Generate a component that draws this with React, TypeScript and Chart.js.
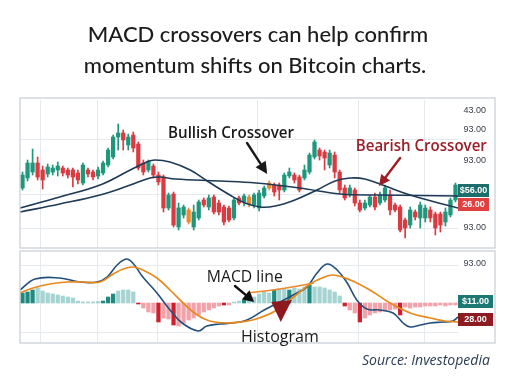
import { useEffect, useRef } from "react";
import { Chart, registerables } from "chart.js";

Chart.register(...registerables);

// ---------- text ----------
const TITLE = ["MACD crossovers can help confirm", "momentum shifts on Bitcoin charts."];
const SOURCE = "Source: Investopedia";

// ---------- price panel (candles, index = session) ----------
const opens = [60,70,76,85,78,74,76,78,80,78,78,75,65,78,76,72,75,83,91,111,115,103,113,104,85,78,82,73,71,40,54,21,33,38,21,30,48,41,51,45,41,40,30,50,46,44,43,40,52,65,63,63,58,72,73,71,70,76,91,98,96,83,93,76,60,53,58,45,40,43,51,45,48,53,43,41,28,23,36,30,30,38,34,34,26,33,48];
const closes = [73,85,85,71,68,81,80,82,75,73,71,68,83,74,71,78,85,98,111,115,108,111,100,80,76,86,73,66,40,53,23,40,41,26,36,46,43,50,36,36,26,28,48,45,52,51,53,55,60,60,56,58,73,76,68,58,78,93,106,92,90,95,76,58,50,60,45,38,45,51,41,53,60,38,38,18,20,38,31,43,40,30,20,23,36,48,63];
const highs = [76,88,99,91,82,84,83,86,82,80,80,78,85,80,78,81,87,100,113,124,118,114,116,106,88,88,84,76,73,55,56,45,43,40,43,48,50,53,53,48,43,42,50,52,54,53,55,58,62,67,65,65,75,80,75,73,83,95,108,100,98,98,96,78,63,63,60,48,48,53,55,56,63,58,45,43,30,41,38,46,43,41,36,36,40,50,65];
const lows = [58,67,73,68,59,71,73,72,72,70,61,64,63,71,68,69,73,81,89,98,98,98,96,78,73,76,70,63,36,38,21,18,30,24,18,28,41,38,34,33,23,26,28,43,42,41,40,37,50,58,52,48,56,70,65,56,68,74,89,88,78,80,70,55,48,51,42,36,38,41,38,43,46,33,36,16,10,20,28,20,26,26,13,16,22,31,46];
const orangeCandles = [33, 45, 49];

// moving averages (sampled along the sessions)
const fastMaX = [-0.5,7.4,15.4,21.4,24.7,26.3,29.3,33.3,37.0,41.2,44.2,47.2,50.2,54.1,58.5,62.1,65.1,68.0,72.0,77.0,81.9,86.5];
const fastMaY = [40,51,63,78,86,88,86,78,66,53,45,41,42,48,58,67,70,69,62,53,46,40];
const slowMaX = [-0.5,7.4,15.4,21.4,25.3,27.3,30.3,39.2,46.4,55.1,63.1,71.0,86.5];
const slowMaY = [36,44,53,63,70,71,69,67,65,60,54,53,52];

// price axis labels
const priceLabels = ["43.00", "93.00", "93.00", "93.00"];
const priceLabelValues = [137, 118, 87, 20];
const priceBadges = ["$56.00", "26.00"];
const priceBadgeValues = [57.5, 43.5];
const priceBadgeColors = ["#1d6e6b", "#e0403f"];
const priceGrid = [109, 54, 20];

// ---------- MACD panel ----------
const histogram = [10,11,13,15,12,10,9,8,7,6,5,2,1,1,1,1.5,2,6,9,12,13,13,11,-1,-5,-9,-10,-19,-15,-16,-22,-23,-20,-17,-15,-12,-9,-7,-5,-3,-2,-2,1,2,3,4,6,9,11,10,13,14,14,13,15,14,16,18,16,16,15,13,11,7,-3,-7,-10,-19,-15,-12,-10,-9,-8,-7,-6,-12,-4,-5,-4,-4,-3,-3,-3,-2,-3,-2,-2];
const histStrong = [0,1,2,16,17,18,23,27,30,40,44,50,53,57,64,67,75];
const macdX = [-0.5,2.5,7.4,11.4,14.8,16.8,18.8,20.6,21.9,23.9,26.7,29.3,31.7,34.9,36.6,39.2,41.8,44.6,48.0,51.9,54.5,56.5,58.5,60.5,62.5,64.5,66.4,68.4,71.0,73.6,75.6,77.0,79.0,81.0,83.5,85.5,86.5];
const macdY = [13,24,25,21,21,26,38,44,40,26,10,-7,-20,-28,-23,-21,-20,-17,-7,3,10,16,30,39,33,20,3,-6,-7,-10,-20,-24,-22,-20,-19,-18,-14];
const signalX = [-0.5,2.1,5.5,8.8,12.0,15.4,18.0,20.0,21.9,23.9,26.7,29.3,31.9,34.7,37.2,40.6,43.2,46.4,50.2,54.1,57.1,59.5,61.7,65.1,69.0,73.0,77.0,81.0,83.9,86.5];
const signalY = [10,15,19,21,21,21,29,34,36,33,25,13,0,-12,-18,-20,-19,-16,-8,7,19,25,28,23,13,0,-10,-15,-18,-19];
const macdLabels = ["93.00"];
const macdLabelValues = [39];
const macdBadges = ["$11.00", "28.00"];
const macdBadgeValues = [1.5, -16.5];
const macdBadgeColors = ["#1c7873", "#8c1b22"];
const macdGrid = [38, -29];

// shared session grid
const sessionGrid = [9.23, 20.56, 32.87, 60.48, 73.0, 86.5];

// ---------- annotations (session, value) ----------
const bullishText = "Bullish Crossover";
const bullishAt = [28.9, 110];
const bullishArrow = [44.6, 105, 48.6, 74];
const bearishText = "Bearish Crossover";
const bearishAt = [66.2, 97];
const bearishArrow = [75.0, 90, 70.8, 62];
const macdText = "MACD line";
const macdAt = [36.6, 21];
const macdArrow = [42.2, 17, 46.0, 1];
const macdTail = [44.6, 10, 51.0, 13, 57.9, 20];
const histText = "Histogram";
const histAt = [43.4, -39];
const histHead = [49.4, 1, 53.5, 3, 51.3, -19];

const GREEN = "#1f977c";
const RED = "#db3a41";
const ORANGE = "#ec8a2f";
const NAVY = "#1e3a55";
const GRID = "#e6e9ee";
const FRAME = "#cbd0d8";

function drawArrow(ctx: any, x1: number, y1: number, x2: number, y2: number, color: string, w: number, hl: number, hw: number) {
  const a = Math.atan2(y2 - y1, x2 - x1);
  const bx = x2 - hl * Math.cos(a);
  const by = y2 - hl * Math.sin(a);
  ctx.strokeStyle = color;
  ctx.lineWidth = w;
  ctx.lineCap = "round";
  ctx.beginPath();
  ctx.moveTo(x1, y1);
  ctx.lineTo(bx, by);
  ctx.stroke();
  ctx.fillStyle = color;
  ctx.beginPath();
  ctx.moveTo(x2, y2);
  ctx.lineTo(bx + hw * Math.sin(a), by - hw * Math.cos(a));
  ctx.lineTo(bx - hw * Math.sin(a), by + hw * Math.cos(a));
  ctx.closePath();
  ctx.fill();
}

const topDecor = {
  id: "topDecor",
  afterDraw(chart: any) {
    const { ctx } = chart;
    const x = chart.scales.x;
    const y = chart.scales.y;
    const px = (i: number) => x.getPixelForValue(i);
    const py = (v: number) => y.getPixelForValue(v);
    ctx.save();
    // frame
    ctx.strokeStyle = FRAME;
    ctx.lineWidth = 1.3;
    ctx.strokeRect(20, 98, 475, 150);
    // title
    ctx.fillStyle = "#1c1c1c";
    ctx.textAlign = "center";
    ctx.textBaseline = "alphabetic";
    ctx.font = "500 22px Lato";
    ctx.fillText(TITLE[0], 258, 42, 346);
    ctx.fillText(TITLE[1], 255, 73, 348);
    // axis labels
    ctx.font = "9px 'Liberation Sans'";
    ctx.textAlign = "right";
    ctx.textBaseline = "middle";
    ctx.fillStyle = "#3b4048";
    priceLabels.forEach((t, k) => ctx.fillText(t, 486, py(priceLabelValues[k])));
    priceBadges.forEach((t, k) => {
      const cy = py(priceBadgeValues[k]);
      ctx.fillStyle = priceBadgeColors[k];
      ctx.fillRect(458, cy - 6.5, 31, 13);
      ctx.fillStyle = "#ffffff";
      ctx.font = "bold 9px 'Liberation Sans'";
      ctx.textAlign = "center";
      ctx.fillText(t, 473.5, cy + 0.5);
    });
    // annotations
    ctx.textAlign = "left";
    ctx.textBaseline = "alphabetic";
    ctx.fillStyle = "#1a1a1a";
    ctx.font = "600 17px 'Open Sans'";
    ctx.fillText(bullishText, px(bullishAt[0]), py(bullishAt[1]), 126);
    drawArrow(ctx, px(bullishArrow[0]), py(bullishArrow[1]), px(bullishArrow[2]), py(bullishArrow[3]), "#1a1a1a", 2.4, 12, 6);
    ctx.fillStyle = "#9c1e27";
    ctx.font = "600 16px 'Open Sans'";
    ctx.fillText(bearishText, px(bearishAt[0]), py(bearishAt[1]), 131);
    drawArrow(ctx, px(bearishArrow[0]), py(bearishArrow[1]), px(bearishArrow[2]), py(bearishArrow[3]), "#9c1e27", 2.4, 11, 5.5);
    ctx.restore();
  },
};

const bottomDecor = {
  id: "bottomDecor",
  afterDraw(chart: any) {
    const { ctx } = chart;
    const x = chart.scales.x;
    const y = chart.scales.y;
    const px = (i: number) => x.getPixelForValue(i);
    const py = (v: number) => y.getPixelForValue(v);
    ctx.save();
    ctx.strokeStyle = FRAME;
    ctx.lineWidth = 1.3;
    ctx.strokeRect(20, 251, 475, 92);
    // labels
    ctx.font = "9px 'Liberation Sans'";
    ctx.textAlign = "right";
    ctx.textBaseline = "middle";
    ctx.fillStyle = "#3b4048";
    macdLabels.forEach((t, k) => ctx.fillText(t, 486, py(macdLabelValues[k])));
    macdBadges.forEach((t, k) => {
      const cy = py(macdBadgeValues[k]);
      ctx.fillStyle = macdBadgeColors[k];
      ctx.fillRect(458, cy - 6.5, 35, 13);
      ctx.fillStyle = "#ffffff";
      ctx.font = "bold 9px 'Liberation Sans'";
      ctx.textAlign = "center";
      ctx.fillText(t, 475.5, cy + 0.5);
    });
    // MACD line annotation
    ctx.strokeStyle = ORANGE;
    ctx.lineWidth = 1.5;
    ctx.beginPath();
    ctx.moveTo(px(macdTail[0]), py(macdTail[1]));
    ctx.quadraticCurveTo(px(macdTail[2]), py(macdTail[3]), px(macdTail[4]), py(macdTail[5]));
    ctx.stroke();
    drawArrow(ctx, px(macdArrow[0]), py(macdArrow[1]), px(macdArrow[2]), py(macdArrow[3]), "#111111", 2.4, 11, 6);
    ctx.textAlign = "left";
    ctx.textBaseline = "alphabetic";
    ctx.fillStyle = "#1a1a1a";
    ctx.font = "500 16px 'Open Sans'";
    ctx.fillText(macdText, px(macdAt[0]), py(macdAt[1]), 76);
    // Histogram annotation
    ctx.fillStyle = "#8e1a1f";
    ctx.beginPath();
    ctx.moveTo(px(histHead[0]), py(histHead[1]));
    ctx.lineTo(px(histHead[2]), py(histHead[3]));
    ctx.lineTo(px(histHead[4]), py(histHead[5]));
    ctx.closePath();
    ctx.fill();
    ctx.fillStyle = "#1a1a1a";
    ctx.font = "500 16px 'Open Sans'";
    ctx.fillText(histText, px(histAt[0]), py(histAt[1]), 78);
    // source
    ctx.fillStyle = "#2b3d52";
    ctx.font = "italic 15px 'Open Sans'";
    ctx.fillText(SOURCE, 362, 365, 128);
    ctx.restore();
  },
};

function xScale() {
  return {
    type: "linear" as const,
    min: -0.5,
    max: 86.5,
    offset: false,
    display: true,
    ticks: { display: false },
    grid: { color: GRID, drawTicks: false },
    border: { display: false },
    afterBuildTicks: (s: any) => {
      s.ticks = sessionGrid.map((v) => ({ value: v }));
    },
  };
}

function yScale(min: number, max: number, grid: number[]) {
  return {
    type: "linear" as const,
    position: "right" as const,
    min,
    max,
    display: true,
    ticks: { display: false },
    grid: { color: GRID, drawTicks: false },
    border: { display: false },
    afterBuildTicks: (s: any) => {
      s.ticks = grid.map((v) => ({ value: v }));
    },
  };
}

const baseOptions = {
  responsive: false,
  animation: false as const,
  events: [] as any[],
  plugins: { legend: { display: false }, tooltip: { enabled: false }, title: { display: false } },
};

function candleColor(i: number) {
  if (orangeCandles.includes(i)) return ORANGE;
  return closes[i] >= opens[i] ? GREEN : RED;
}

function histColor(i: number) {
  const v = histogram[i];
  const strong = histStrong.includes(i);
  if (v >= 0) return strong ? "#1f8a80" : "#a6d4d2";
  return strong ? "#cf1f2c" : "#f2a3a9";
}

export default function App() {
  const topRef = useRef<HTMLCanvasElement>(null);
  const botRef = useRef<HTMLCanvasElement>(null);

  useEffect(() => {
    const idx = opens.map((_, i) => i);
    const top = new Chart(topRef.current as HTMLCanvasElement, {
      type: "bar",
      data: {
        datasets: [
          {
            type: "line",
            data: fastMaX.map((v, k) => ({ x: v, y: fastMaY[k] })),
            borderColor: NAVY,
            borderWidth: 1.6,
            pointRadius: 0,
            tension: 0.4,
          } as any,
          {
            type: "line",
            data: slowMaX.map((v, k) => ({ x: v, y: slowMaY[k] })),
            borderColor: NAVY,
            borderWidth: 1.6,
            pointRadius: 0,
            tension: 0.4,
          } as any,
          {
            type: "bar",
            data: idx.map((i) => ({ x: i, y: [Math.min(opens[i], closes[i]), Math.max(opens[i], closes[i])] })),
            backgroundColor: idx.map(candleColor),
            barThickness: 3.6,
            grouped: false,
          } as any,
          {
            type: "bar",
            data: idx.map((i) => ({ x: i, y: [lows[i], highs[i]] })),
            backgroundColor: idx.map(candleColor),
            barThickness: 1,
            grouped: false,
          } as any,
        ],
      },
      options: {
        ...baseOptions,
        layout: { padding: { left: 20, right: 54, top: 100, bottom: 136 } },
        scales: { x: xScale(), y: yScale(0, 148, priceGrid) },
      } as any,
      plugins: [topDecor],
    });

    const bottom = new Chart(botRef.current as HTMLCanvasElement, {
      type: "bar",
      data: {
        datasets: [
          {
            type: "line",
            data: signalX.map((v, k) => ({ x: v, y: signalY[k] })),
            borderColor: "#e8891c",
            borderWidth: 1.7,
            pointRadius: 0,
            tension: 0.4,
          } as any,
          {
            type: "line",
            data: macdX.map((v, k) => ({ x: v, y: macdY[k] })),
            borderColor: "#24507c",
            borderWidth: 1.6,
            pointRadius: 0,
            tension: 0.4,
          } as any,
          {
            type: "bar",
            data: idx.map((i) => ({ x: i, y: histogram[i] })),
            backgroundColor: idx.map(histColor),
            barThickness: 3.6,
            grouped: false,
          } as any,
        ],
      },
      options: {
        ...baseOptions,
        layout: { padding: { left: 20, right: 54, top: 251, bottom: 41 } },
        scales: { x: xScale(), y: yScale(-40, 52, macdGrid) },
      } as any,
      plugins: [bottomDecor],
    });

    return () => {
      top.destroy();
      bottom.destroy();
    };
  }, []);

  return (
    <div style={{ position: "absolute", left: 0, top: 0, width: 512, height: 384, background: "#ffffff" }}>
      <canvas ref={topRef} width={512} height={384} style={{ position: "absolute", left: 0, top: 0 }} />
      <canvas ref={botRef} width={512} height={384} style={{ position: "absolute", left: 0, top: 0 }} />
    </div>
  );
}
